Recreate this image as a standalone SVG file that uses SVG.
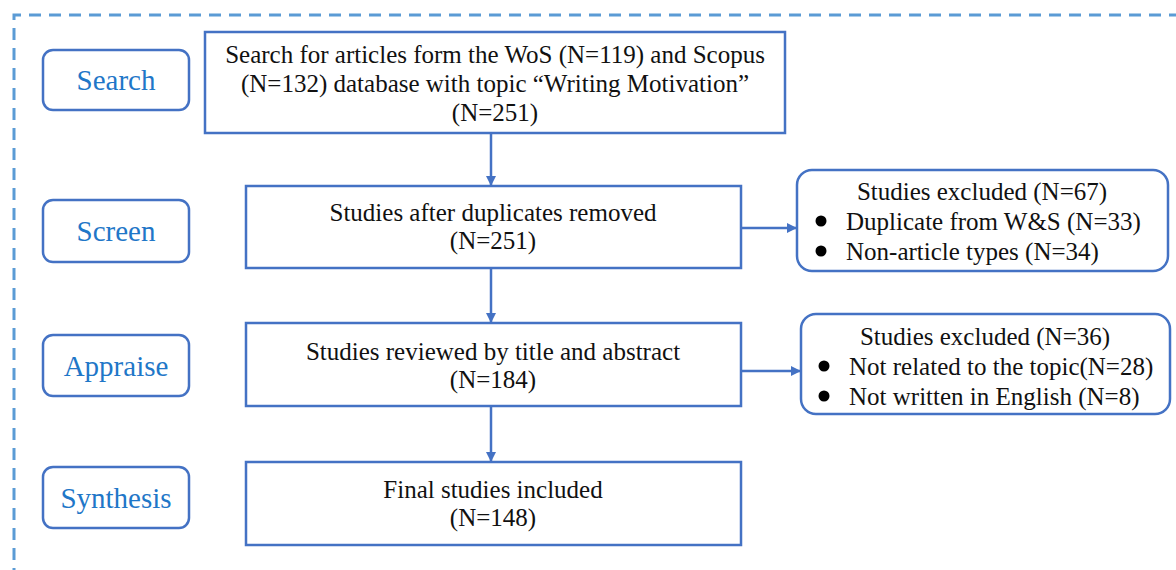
<svg xmlns="http://www.w3.org/2000/svg" width="1176" height="570" viewBox="0 0 1176 570">
<defs>
<marker id="ah" viewBox="0 0 10 10" refX="9" refY="5" markerWidth="4" markerHeight="4" orient="auto" markerUnits="strokeWidth">
<path d="M0,0 L10,5 L0,10 z" fill="#4472C4"/>
</marker>
</defs>
<style>
.stage{fill:#fff;stroke:#4472C4;stroke-width:2.5}
.box{fill:#fff;stroke:#4472C4;stroke-width:2.5}
text{font-family:'Liberation Serif','DejaVu Serif',serif}
.st{font-size:29px;fill:#1F77C8;text-anchor:middle}
.t{font-size:25px;fill:#111;text-anchor:middle}
.tl{font-size:25px;fill:#111}
.conn{stroke:#4472C4;stroke-width:2.5;fill:none;marker-end:url(#ah)}
</style>
<rect width="1176" height="570" fill="#fff"/>
<path d="M14,580 L14,15 L1190,15" fill="none" stroke="#5B9BD5" stroke-width="3" stroke-dasharray="12,8"/>
<g id="stage-search"><rect class="stage" x="43" y="50" width="146" height="60" rx="10"/><text class="st" x="116" y="90">Search</text></g>
<g id="stage-screen"><rect class="stage" x="43" y="200" width="146" height="62" rx="10"/><text class="st" x="116" y="241">Screen</text></g>
<g id="stage-appraise"><rect class="stage" x="43" y="335" width="146" height="61" rx="10"/><text class="st" x="116" y="376">Appraise</text></g>
<g id="stage-synthesis"><rect class="stage" x="43" y="467" width="146" height="61" rx="10"/><text class="st" x="116" y="508">Synthesis</text></g>
<g id="box-search"><rect class="box" x="205" y="32" width="580" height="101"/>
<text class="t" x="495" y="63">Search for articles form the WoS (N=119) and Scopus</text>
<text class="t" x="495" y="92">(N=132) database with topic “Writing Motivation”</text>
<text class="t" x="495" y="121">(N=251)</text></g>
<g id="box-screen"><rect class="box" x="246" y="186" width="495" height="82"/>
<text class="t" x="493" y="221">Studies after duplicates removed</text>
<text class="t" x="493" y="249">(N=251)</text></g>
<g id="box-appraise"><rect class="box" x="246" y="323" width="495" height="83"/>
<text class="t" x="493" y="360">Studies reviewed by title and abstract</text>
<text class="t" x="493" y="388">(N=184)</text></g>
<g id="box-final"><rect class="box" x="246" y="462" width="495" height="83"/>
<text class="t" x="493" y="498">Final studies included</text>
<text class="t" x="493" y="526">(N=148)</text></g>
<g id="excl-1"><rect class="box" x="797" y="170" width="371" height="101" rx="15"/>
<text class="t" x="982" y="200">Studies excluded (N=67)</text>
<circle cx="821" cy="221" r="5.5" fill="#000"/><text class="tl" x="846" y="230">Duplicate from W&amp;S (N=33)</text>
<circle cx="821" cy="251" r="5.5" fill="#000"/><text class="tl" x="846" y="260">Non-article types (N=34)</text></g>
<g id="excl-2"><rect class="box" x="801" y="314" width="369" height="100" rx="15"/>
<text class="t" x="985" y="345">Studies excluded (N=36)</text>
<circle cx="824" cy="366" r="5.5" fill="#000"/><text class="tl" x="849" y="375">Not related to the topic(N=28)</text>
<circle cx="824" cy="396" r="5.5" fill="#000"/><text class="tl" x="849" y="405">Not written in English (N=8)</text></g>
<g id="connectors">
<line class="conn" x1="491" y1="133" x2="491" y2="185"/>
<line class="conn" x1="491" y1="268" x2="491" y2="322"/>
<line class="conn" x1="491" y1="406" x2="491" y2="461"/>
<line class="conn" x1="741" y1="228" x2="796" y2="228"/>
<line class="conn" x1="741" y1="371" x2="800" y2="371"/>
</g>
</svg>
